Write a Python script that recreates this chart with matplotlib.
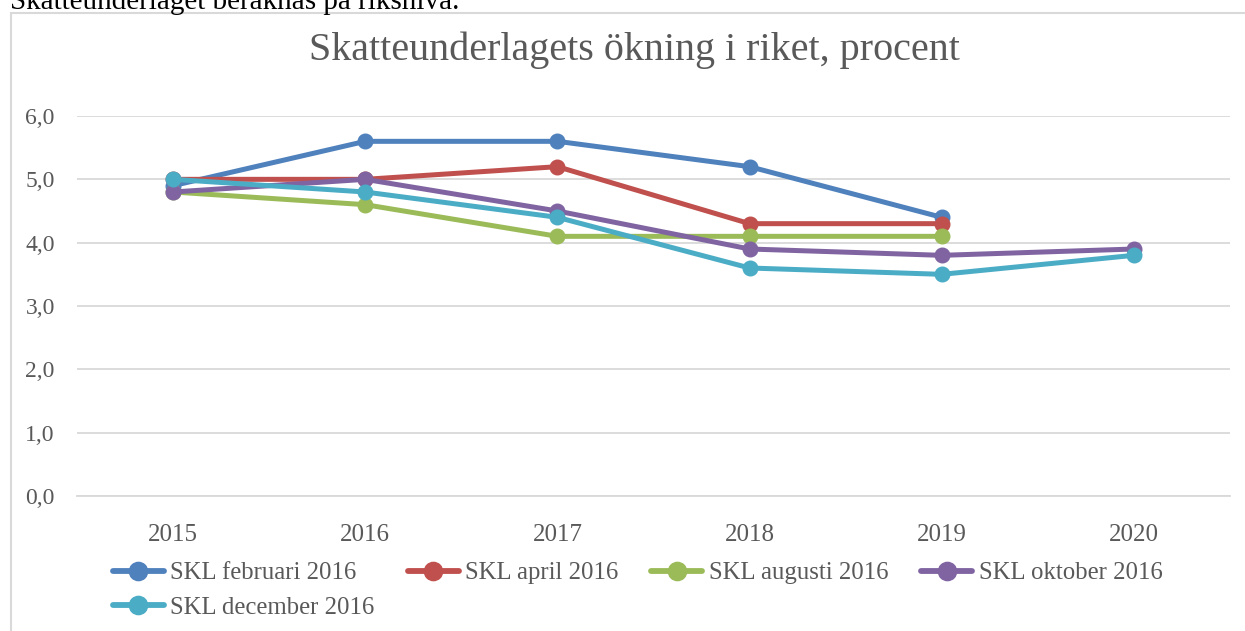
import matplotlib
matplotlib.use("Agg")
import matplotlib.pyplot as plt
from matplotlib.patches import Rectangle
import numpy as np

plt.rcParams['font.family'] = ['Liberation Serif', 'DejaVu Serif']

years = ["2015", "2016", "2017", "2018", "2019", "2020"]
series_names = ["SKL februari 2016", "SKL april 2016", "SKL augusti 2016",
                "SKL oktober 2016", "SKL december 2016"]
feb = [4.9, 5.6, 5.6, 5.2, 4.4, None]
apr = [5.0, 5.0, 5.2, 4.3, 4.3, None]
aug = [4.8, 4.6, 4.1, 4.1, 4.1, None]
okt = [4.8, 5.0, 4.5, 3.9, 3.8, 3.9]
dec = [5.0, 4.8, 4.4, 3.6, 3.5, 3.8]
colors = ["#4F81BD", "#C0504D", "#9BBB59", "#8064A2", "#4BACC6"]
yticks = [0, 1, 2, 3, 4, 5, 6]

W, H = 1245, 631
fig = plt.figure(figsize=(W / 100, H / 100), dpi=100)

# chart border (partly cut off)
fig.patches.append(Rectangle((11 / W, -0.1), 1.2, 1 - 13 / H + 0.1,
                             transform=fig.transFigure, fill=False,
                             edgecolor="#D9D9D9", linewidth=1.5))
# cut off document text above the chart
fig.text(10 / W, 1 - 9 / H, "Skatteunderlaget beräknas på riksnivå.",
         fontsize=21, color="black", ha="left", va="baseline",
         family=['Liberation Serif'])

ax = fig.add_axes([77 / W, 1 - 496 / H, (1230 - 77) / W, (496 - 116) / H])
x = np.arange(len(years))
handles = []
for name, vals, c in zip(series_names, [feb, apr, aug, okt, dec], colors):
    v = np.array([np.nan if a is None else a for a in vals], dtype=float)
    h, = ax.plot(x, v, color=c, linewidth=3.6, marker="o", markersize=10.5,
                 label=name, solid_capstyle="round", clip_on=False)
    handles.append(h)

ax.set_xlim(-0.5, len(years) - 0.5)
ax.set_ylim(0, 6)
ax.set_yticks(yticks)
ax.set_yticklabels([f"{t:.1f}".replace(".", ",") for t in yticks])
ax.set_xticks(x)
ax.set_xticklabels(years)
ax.grid(axis="y", color="#D9D9D9", linewidth=1.3)
ax.set_axisbelow(True)
for s in ["top", "right", "left"]:
    ax.spines[s].set_visible(False)
ax.spines["bottom"].set_color("#D9D9D9")
ax.spines["bottom"].set_linewidth(1.3)
ax.tick_params(axis="both", length=0, labelcolor="#595959")
ax.tick_params(axis="y", pad=16, labelsize=17)
ax.tick_params(axis="x", pad=20, labelsize=18)

fig.text(634 / W, 1 - 50 / H, "Skatteunderlagets ökning i riket, procent",
         fontsize=28.9, color="#595959", ha="center", va="center")

# row-major order for a 4-column legend: feb, apr, aug, okt / dec
order = [0, 4, 1, 2, 3]
leg = fig.legend([handles[i] for i in order], [series_names[i] for i in order],
                 loc="upper left", bbox_to_anchor=(113 / W, 1 - 562 / H),
                 ncol=4, frameon=False, fontsize=17.8, labelcolor="#595959",
                 handlelength=2.06, handletextpad=0.25, columnspacing=1.35,
                 labelspacing=0.5, borderpad=0, borderaxespad=0,
                 markerscale=1.25)
for lh in leg.legend_handles:
    lh.set_linewidth(4.2)

fig.savefig("out.png", dpi=100)
